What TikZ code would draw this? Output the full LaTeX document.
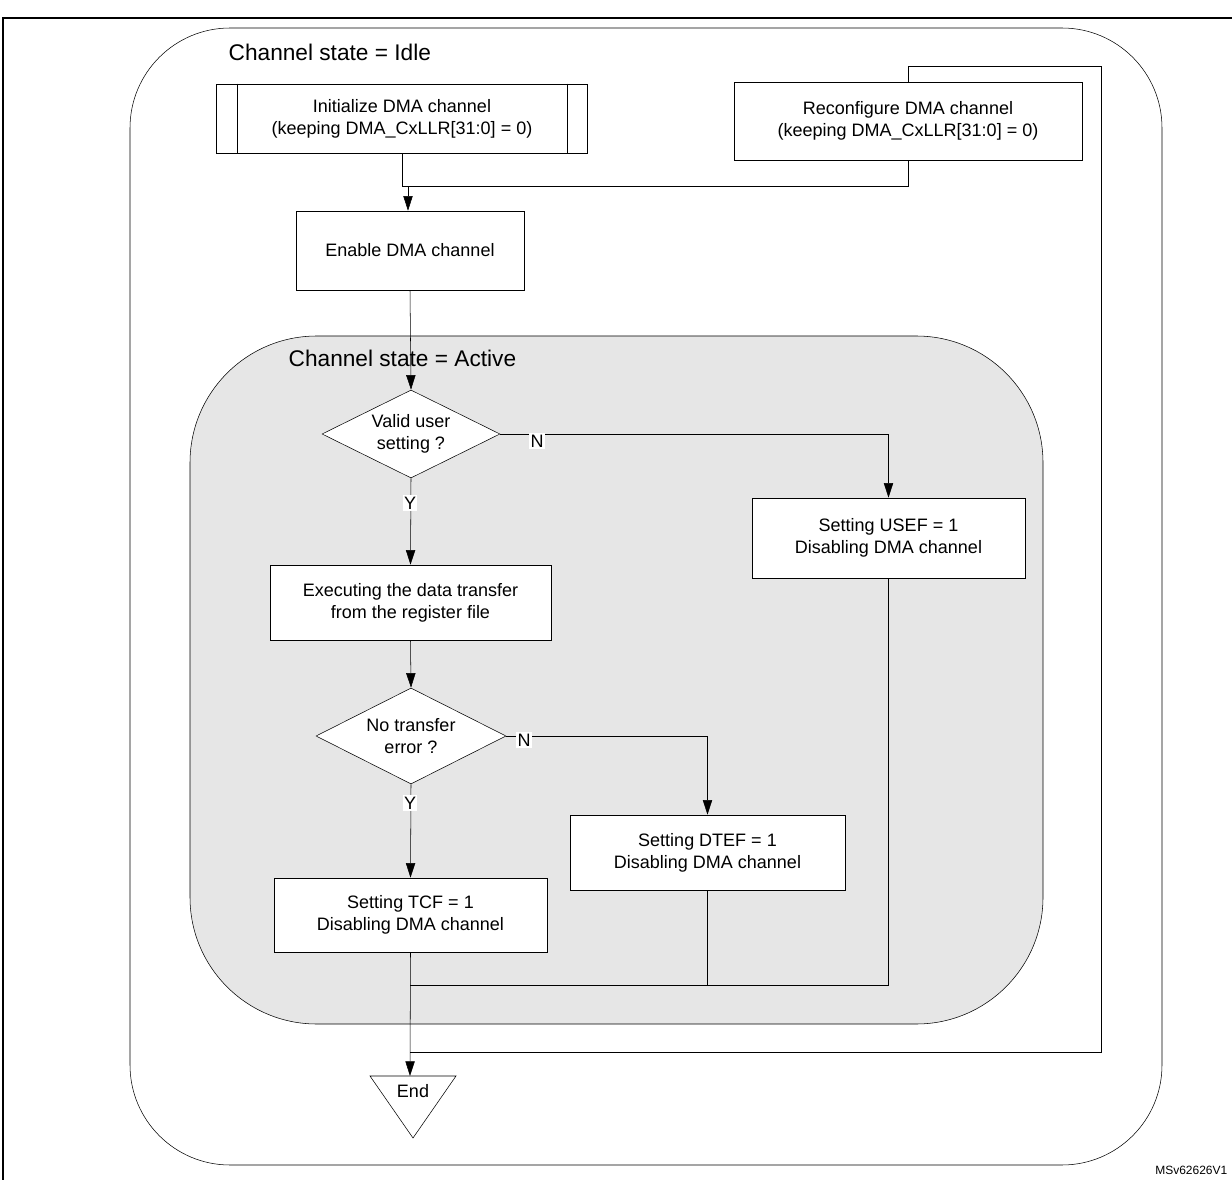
\documentclass[tikz,border=0pt]{standalone}
\usepackage{fontspec}
\setmainfont{Liberation Sans}
\usetikzlibrary{arrows.meta, shapes.geometric}
\definecolor{activegray}{RGB}{230, 230, 230}

\begin{document}
\begin{tikzpicture}[x=0.75pt, y=-0.75pt,
    every node/.style={font=\fontsize{13.5}{16.5}\selectfont, align=center},
    procbox/.style={draw, fill=white, inner sep=0pt},
    decision/.style={draw, fill=white, diamond, aspect=2.1, inner sep=0pt},
    flow/.style={-{Triangle[length=11pt, width=7pt]}},
    yn/.style={fill=white, inner sep=1pt}]
        \useasboundingbox (0,0) rectangle (1232,1180);
        % cadre de la figure
        \draw[thick] (3,1180) -- (3,18) -- (1232,18);

        % etat Idle
        \draw[rounded corners=75pt] (130,28) rectangle (1162,1165);
        \node[anchor=west, font=\fontsize{17}{20}\selectfont] (idle) at (224,52) {Channel state = Idle};

        % boucle de reconfiguration
        \coordinate (loopA) at (410,1052);
        \coordinate (loopB) at (1101,1052);
        \coordinate (loopC) at (1101,66);
        \coordinate (loopD) at (908,66);
        \draw (loopA) -- (loopB) -- (loopC) -- (loopD) -- (908,186);

        \node[procbox, minimum width=371*0.75pt, minimum height=69*0.75pt] (init) at (402,118.5)
            {Initialize DMA channel\\(keeping DMA\_CxLLR[31:0] = 0)};
        \draw ([xshift=21*0.75pt]init.north west) -- ([xshift=21*0.75pt]init.south west);
        \draw ([xshift=-21*0.75pt]init.north east) -- ([xshift=-21*0.75pt]init.south east);
        \node[procbox, minimum width=348*0.75pt, minimum height=78*0.75pt] (reconf) at (908,121)
            {Reconfigure DMA channel\\(keeping DMA\_CxLLR[31:0] = 0)};

        \node[procbox, minimum width=228*0.75pt, minimum height=79*0.75pt] (enable) at (410,250.5)
            {Enable DMA channel};
        \coordinate (join) at (402,186);
        \draw (init.south) -- (join) -| (reconf.south);
        \draw[flow] (join) -- ++(0,0) -| ([xshift=-1.5pt]enable.north);

        % etat Active
        \draw[fill=activegray, rounded corners=95pt] (190,336) rectangle (1043,1024);
        \node[anchor=west, font=\fontsize{17}{20}\selectfont] (active) at (284,358) {Channel state = Active};

        \node[decision, minimum width=178*0.75pt, minimum height=88*0.75pt] (valid) at (411,434) {Valid user\\setting ?};
        \node[procbox, minimum width=273*0.75pt, minimum height=80*0.75pt] (usef) at (888.5,538)
            {Setting USEF = 1\\Disabling DMA channel};
        \node[procbox, minimum width=281*0.75pt, minimum height=75*0.75pt] (exec) at (410.5,602.5)
            {Executing the data transfer\\from the register file};
        \node[decision, minimum width=190*0.75pt, minimum height=96*0.75pt] (noerr) at (411,736) {No transfer\\error ?};
        \node[procbox, minimum width=275*0.75pt, minimum height=75*0.75pt] (dtef) at (707.5,852.5)
            {Setting DTEF = 1\\Disabling DMA channel};
        \node[procbox, minimum width=273*0.75pt, minimum height=74*0.75pt] (tcf) at (410.5,915)
            {Setting TCF = 1\\Disabling DMA channel};

        \draw[flow] (enable.south) -- (valid.north);
        \draw[flow] (valid.east) -| (usef.north);
        \draw[flow] (valid.south) -- (exec.north);
        \draw[flow] (exec.south) -- (noerr.north);
        \draw[flow] (noerr.east) -| (dtef.north);
        \draw[flow] (noerr.south) -- (tcf.north);
        \node[yn] (n1) at (537,441) {N};
        \node[yn] (y1) at (410,503) {Y};
        \node[yn] (n2) at (524,740) {N};
        \node[yn] (y2) at (410,803) {Y};

        % sorties vers End
        \coordinate (merge) at (410,985);
        \draw (usef.south) |- (merge);
        \draw (dtef.south) |- (merge);
        \node (endtxt) at (413,1091) {End};
        \draw (370,1076) -- (456,1076) -- (413,1138) -- cycle;
        \draw[flow] (tcf.south) -- (410,1076);

        \node[anchor=east, font=\fontsize{9}{10}\selectfont] (ref) at (1232,1170) {MSv62626V1};
    \end{tikzpicture}
\end{document}
